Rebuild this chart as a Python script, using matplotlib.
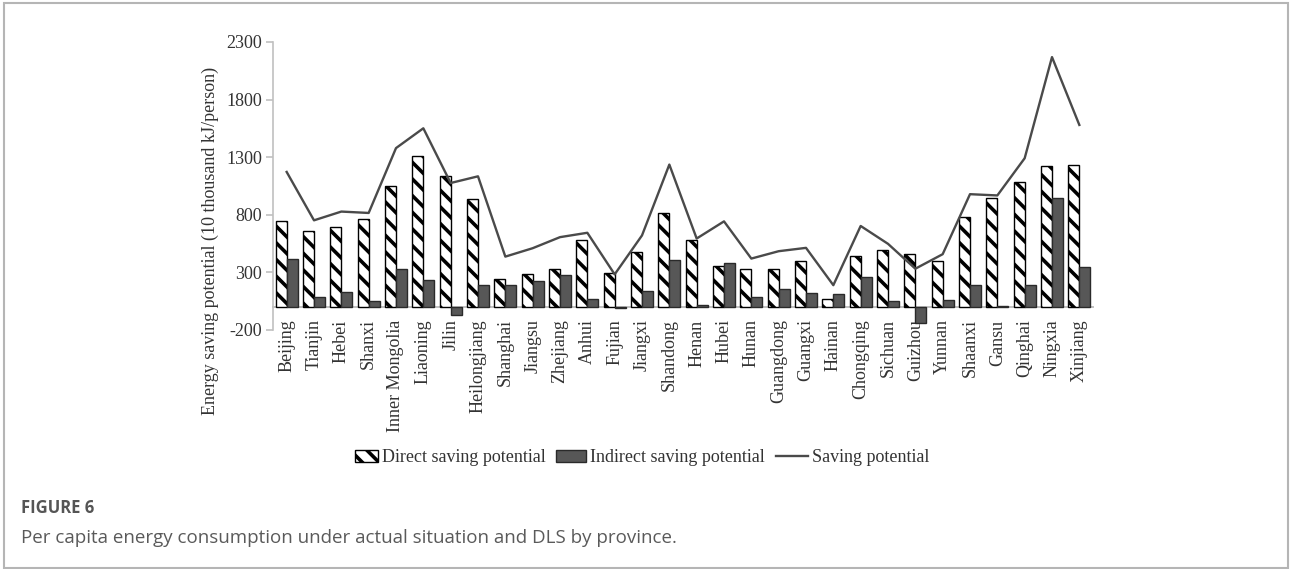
import matplotlib
matplotlib.use("Agg")
import matplotlib.pyplot as plt
import numpy as np
from matplotlib.patches import Rectangle, Patch
from matplotlib.lines import Line2D

provinces = ["Beijing", "Tianjin", "Hebei", "Shanxi", "Inner Mongolia", "Liaoning",
             "Jilin", "Heilongjiang", "Shanghai", "Jiangsu", "Zhejiang", "Anhui",
             "Fujian", "Jiangxi", "Shandong", "Henan", "Hubei", "Hunan", "Guangdong",
             "Guangxi", "Hainan", "Chongqing", "Sichuan", "Guizhou", "Yunnan",
             "Shaanxi", "Gansu", "Qinghai", "Ningxia", "Xinjiang"]

direct = [746, 659, 691, 761, 1047, 1309, 1134, 936, 245, 286, 326, 577, 295, 481,
          816, 577, 356, 332, 326, 396, 73, 440, 498, 461, 396, 784, 950, 1084,
          1221, 1233]
indirect = [414, 90, 131, 55, 326, 233, -67, 192, 192, 224, 277, 67, -12, 140,
            411, 17, 385, 90, 152, 117, 111, 257, 50, -137, 61, 187, 9, 192, 944, 344]
total = [1172, 752, 828, 816, 1379, 1551, 1076, 1134, 437, 510, 606, 644, 283, 621,
         1236, 594, 743, 420, 484, 513, 189, 703, 548, 332, 458, 979, 968, 1291,
         2169, 1580]

yticks = [-200, 300, 800, 1300, 1800, 2300]

plt.rcParams["hatch.linewidth"] = 2.6
serif = ["Liberation Serif", "DejaVu Serif"]
text_col = "#333333"
axis_col = "#c0c0c0"
fsize = 13

fig = plt.figure(figsize=(12.9, 5.69), dpi=100)
ax = fig.add_axes([273 / 1290, 1 - 330 / 569, 820 / 1290, 288 / 569])

# spines first: moving a spine rebuilds the ticks
for side in ("top", "right"):
    ax.spines[side].set_visible(False)
ax.spines["bottom"].set_position(("data", 0))
ax.spines["bottom"].set_color(axis_col)
ax.spines["bottom"].set_linewidth(1.4)
ax.spines["bottom"].set_zorder(1)
ax.spines["left"].set_color(axis_col)
ax.spines["left"].set_linewidth(1.2)

x = np.arange(len(provinces))
w = 0.4
ax.bar(x - w / 2, direct, width=w, facecolor="white", edgecolor="black",
       linewidth=1.0, hatch="\\\\", zorder=2)
ax.bar(x + w / 2, indirect, width=w, facecolor="#575757", edgecolor="#2a2a2a",
       linewidth=1.0, zorder=2)
ax.plot(x, total, color="#4a4a4a", linewidth=1.7, zorder=3)

ax.set_xlim(-0.5, len(provinces) - 0.5)
ax.set_ylim(-200, 2300)
ax.set_yticks(yticks)
ax.set_xticks(x)
ax.set_xticklabels(provinces, rotation=90, family=serif, fontsize=fsize,
                   color=text_col, ha="center", va="top")
ax.set_yticklabels([str(v) for v in yticks], family=serif, fontsize=fsize,
                   color=text_col)
ax.tick_params(axis="y", color=axis_col, length=5, width=1.2, pad=3)
ax.tick_params(axis="x", length=0, pad=9)

ax.set_ylabel("Energy saving potential (10 thousand kJ/person)", family=serif,
              fontsize=fsize, color=text_col)
ax.yaxis.set_label_coords(-0.066, 0.31)

# legend: one entry per legend so each key gets its own width
entries = [
    (Patch(facecolor="white", edgecolor="black", hatch="\\\\", linewidth=1.0),
     "Direct saving potential", 355, 1.27),
    (Patch(facecolor="#575757", edgecolor="#2a2a2a", linewidth=1.0),
     "Indirect saving potential", 556, 1.66),
    (Line2D([], [], color="#4a4a4a", linewidth=1.7),
     "Saving potential", 776, 1.77),
]
for handle, label, left_px, hlen in entries:
    fig.legend([handle], [label], loc="center left",
               bbox_to_anchor=(left_px / 1290, 1 - 458 / 569),
               frameon=False, prop={"family": serif, "size": 13},
               handlelength=hlen, handleheight=0.6, handletextpad=0.22,
               borderpad=0, borderaxespad=0, labelcolor=text_col)

# frame around the figure panel
fig.patches.append(Rectangle((4 / 1290, 1 / 569), 1284 / 1290, 565 / 569,
                             transform=fig.transFigure, fill=False,
                             edgecolor="#b5b5b5", linewidth=1.5))

fig.text(21 / 1290, 1 - 508 / 569, "FIGURE 6", family=["Open Sans", "DejaVu Sans"],
         fontsize=12, fontweight="bold", color="#555555", va="center")
fig.text(21 / 1290, 1 - 538 / 569,
         "Per capita energy consumption under actual situation and DLS by province.",
         family=["Open Sans", "DejaVu Sans"], fontsize=13.5, color="#5a5a5a",
         va="center")

fig.savefig("out.png", dpi=100)
